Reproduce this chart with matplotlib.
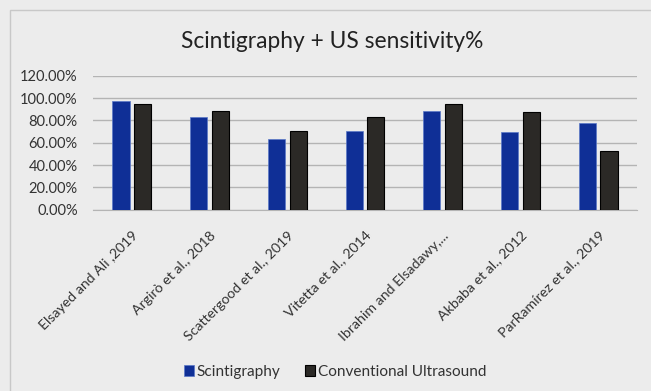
import numpy as np
import matplotlib.pyplot as plt
from matplotlib.ticker import PercentFormatter

studies = ["Elsayed and Ali ,2019", "Argirò et al., 2018", "Scattergood et al., 2019",
           "Vitetta et al., 2014", "Ibrahim and Elsadawy,...", "Akbaba et al., 2012",
           "ParRamírez et al., 2019"]
scintigraphy = [97, 83, 63, 70.5, 88.6, 69.3, 77.6]
conventional_us = [94.6, 88.6, 70.5, 83.3, 94.6, 87.2, 52.3]

plt.rcParams['font.family'] = ['Lato', 'DejaVu Sans']
bg = '#ececec'

fig = plt.figure(figsize=(6.51, 3.91), dpi=100, facecolor=bg)
ax = fig.add_axes([93 / 651, 1 - 209.7 / 391, 544 / 651, 134 / 391])
ax.set_facecolor(bg)

# outer chart border
fig.patches.append(plt.Rectangle((10 / 651, -0.1), 1.0, 1 - 10 / 391 + 0.1,
                                 transform=fig.transFigure, fill=False,
                                 edgecolor='#c8c8c8', linewidth=1))

x = np.arange(len(studies))
w = 0.22
ax.bar(x - 0.14, scintigraphy, w, color='#0f2f96', edgecolor='#5a78c8', linewidth=0.5,
       label='Scintigraphy', zorder=3)
ax.bar(x + 0.14, conventional_us, w, color='#2b2926', edgecolor='black', linewidth=0.8,
       label='Conventional Ultrasound', zorder=3)

ax.set_xlim(-0.5, len(studies) - 0.5)
ax.set_ylim(0, 120)
ax.set_yticks(np.arange(0, 121, 20))
ax.yaxis.set_major_formatter(PercentFormatter(decimals=2))
ax.grid(axis='y', color='#b4b4b4', linewidth=1, zorder=0)
for s in ['top', 'right', 'left']:
    ax.spines[s].set_visible(False)
ax.spines['bottom'].set_color('#b4b4b4')
ax.tick_params(axis='y', length=0, labelsize=10.5, colors='#333333', pad=11)
ax.tick_params(axis='x', length=0, labelsize=10.2, colors='#333333', pad=14)
ax.set_xticks(x)
ax.set_xticklabels(studies, rotation=45, ha='right', rotation_mode='anchor')

fig.text(332 / 651, 1 - 41 / 391, 'Scintigraphy + US sensitivity%', ha='center', va='center',
         fontsize=16.4, color='#222222')

fig.legend(loc='center', bbox_to_anchor=(0.515, 1 - 372 / 391), ncol=2, frameon=False,
           fontsize=11.1, handlelength=0.65, handleheight=0.65, handletextpad=0.15,
           columnspacing=1.6, labelcolor='#333333')

fig.savefig('out.png', dpi=100, facecolor=bg)
